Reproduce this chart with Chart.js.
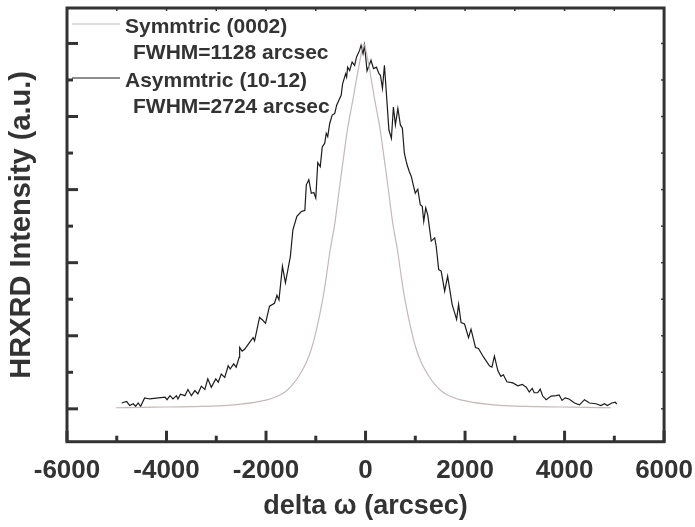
<!DOCTYPE html>
<html lang="en">
<head>
  <meta charset="UTF-8">
  <title>HRXRD rocking curves</title>
  <script src="https://cdn.jsdelivr.net/npm/chart.js"></script>
  <style>
    html, body { margin: 0; padding: 0; background: #fff; }
  </style>
</head>
<body>
  <canvas id="hrxrd" width="695" height="527"></canvas>

  <script>
    // symmetric (0002) scan, [delta omega, intensity]
    const symmetric = [
      [-5020, 0.003], [-4500, 0.004], [-4000, 0.005], [-3500, 0.006], [-3000, 0.008],
      [-2500, 0.013], [-2000, 0.024], [-1750, 0.036], [-1600, 0.048], [-1480, 0.064],
      [-1340, 0.090], [-1200, 0.124], [-1090, 0.163], [-980, 0.220], [-860, 0.300],
      [-790, 0.360], [-710, 0.436], [-620, 0.505], [-530, 0.599], [-450, 0.680],
      [-365, 0.763], [-245, 0.853], [-130, 0.940], [-35, 0.998], [60, 0.945],
      [175, 0.853], [295, 0.763], [380, 0.680], [460, 0.599], [550, 0.505],
      [640, 0.436], [720, 0.360], [790, 0.300], [910, 0.220], [1020, 0.163],
      [1130, 0.124], [1270, 0.090], [1410, 0.064], [1530, 0.048], [1680, 0.036],
      [1930, 0.024], [2430, 0.013], [2930, 0.008], [3430, 0.006], [3930, 0.005],
      [4430, 0.004], [4940, 0.003]
    ];

    // asymmetric (10-12) scan
    const asymmetric = [
      [-4900, 0.016], [-4800, 0.020], [-4740, 0.009], [-4670, 0.014], [-4620, 0.007],
      [-4570, 0.016], [-4520, 0.007], [-4440, 0.030], [-4340, 0.027], [-4030, 0.032],
      [-3990, 0.025], [-3930, 0.036], [-3870, 0.027], [-3800, 0.036], [-3770, 0.027],
      [-3720, 0.040], [-3630, 0.036], [-3570, 0.053], [-3500, 0.036], [-3430, 0.050],
      [-3370, 0.041], [-3300, 0.062], [-3230, 0.053], [-3170, 0.082], [-3100, 0.059],
      [-3010, 0.082], [-2960, 0.073], [-2900, 0.095], [-2830, 0.086], [-2760, 0.118],
      [-2720, 0.109], [-2650, 0.123], [-2600, 0.114], [-2540, 0.141], [-2530, 0.168],
      [-2480, 0.158], [-2430, 0.163], [-2330, 0.182], [-2260, 0.195], [-2230, 0.186],
      [-2130, 0.250], [-2070, 0.243], [-2010, 0.234], [-1930, 0.281], [-1830, 0.289],
      [-1780, 0.311], [-1740, 0.298], [-1670, 0.390], [-1610, 0.345], [-1510, 0.418],
      [-1460, 0.490], [-1380, 0.527], [-1290, 0.540], [-1220, 0.543], [-1190, 0.613],
      [-1140, 0.627], [-1090, 0.590], [-1040, 0.592], [-1000, 0.577], [-960, 0.674],
      [-910, 0.663], [-870, 0.717], [-820, 0.727], [-790, 0.754], [-760, 0.745],
      [-720, 0.781], [-670, 0.804], [-620, 0.808], [-580, 0.831], [-520, 0.849],
      [-490, 0.858], [-460, 0.890], [-400, 0.917], [-380, 0.908], [-360, 0.935],
      [-320, 0.926], [-270, 0.949], [-220, 0.940], [-180, 0.963], [-120, 0.981],
      [-90, 0.995], [-50, 0.972], [-20, 0.995], [30, 0.925], [110, 0.954],
      [160, 0.931], [220, 0.935], [270, 0.917], [300, 0.913], [340, 0.877],
      [380, 0.940], [470, 0.763], [520, 0.740], [560, 0.826], [600, 0.777],
      [650, 0.822], [700, 0.777], [740, 0.768], [780, 0.700], [830, 0.670],
      [880, 0.649], [920, 0.636], [950, 0.618], [1000, 0.590], [1050, 0.601],
      [1100, 0.559], [1140, 0.554], [1170, 0.513], [1210, 0.550], [1250, 0.531],
      [1320, 0.459], [1390, 0.468], [1420, 0.445], [1470, 0.381], [1520, 0.377],
      [1590, 0.322], [1650, 0.363], [1740, 0.286], [1830, 0.245], [1870, 0.286],
      [1920, 0.236], [1990, 0.232], [2070, 0.195], [2120, 0.218], [2210, 0.168],
      [2270, 0.165], [2370, 0.142], [2490, 0.118], [2540, 0.114], [2590, 0.144],
      [2660, 0.104], [2720, 0.089], [2770, 0.093], [2840, 0.074], [2960, 0.071],
      [3060, 0.063], [3150, 0.067], [3230, 0.059], [3290, 0.046], [3350, 0.056],
      [3390, 0.044], [3460, 0.044], [3510, 0.054], [3560, 0.035], [3630, 0.025],
      [3730, 0.035], [3830, 0.036], [3890, 0.038], [3950, 0.023], [4010, 0.030],
      [4090, 0.027], [4200, 0.016], [4300, 0.011], [4400, 0.025], [4500, 0.016],
      [4630, 0.014], [4730, 0.009], [4800, 0.014], [4860, 0.009], [4950, 0.016],
      [5020, 0.018], [5050, 0.013]
    ];

    const xMajor = [-6000, -4000, -2000, 0, 2000, 4000, 6000];
    const xMinor = [-5000, -3000, -1000, 1000, 3000, 5000];
    const yMajor = [0, 0.2, 0.4, 0.6, 0.8, 1.0];
    const yMinor = [0.1, 0.3, 0.5, 0.7, 0.9];

    const seriesNames = ['Symmtric (0002)', 'Asymmtric (10-12)'];
    const seriesNotes = ['FWHM=1128 arcsec', 'FWHM=2724 arcsec'];

    const FONT = 'Arial, "Liberation Sans", sans-serif';
    const INK = '#333';
    const toPts = arr => arr.map(p => ({ x: p[0], y: p[1] }));

    // frame + inward ticks, like the original Origin plot
    const framePlugin = {
      id: 'frame',
      afterDatasetsDraw(chart) {
        const { ctx, chartArea: a, scales } = chart;
        const sx = scales.x, sy = scales.y;
        ctx.save();
        ctx.strokeStyle = INK;
        const line = (x1, y1, x2, y2, w) => {
          ctx.lineWidth = w;
          ctx.beginPath();
          ctx.moveTo(x1, y1);
          ctx.lineTo(x2, y2);
          ctx.stroke();
        };
        xMajor.forEach(v => {
          const px = sx.getPixelForValue(v);
          line(px, a.bottom, px, a.bottom - 11, 3);
          line(px, a.top, px, a.top + 3, 1.5);
        });
        xMinor.forEach(v => {
          const px = sx.getPixelForValue(v);
          line(px, a.bottom, px, a.bottom - 6, 3);
          line(px, a.top, px, a.top + 3, 1.5);
        });
        yMajor.forEach(v => {
          const py = sy.getPixelForValue(v);
          line(a.left, py, a.left + 11, py, 3);
          line(a.right, py, a.right - 3, py, 1.5);
        });
        yMinor.forEach(v => {
          const py = sy.getPixelForValue(v);
          line(a.left, py, a.left + 6, py, 3);
          line(a.right, py, a.right - 3, py, 1.5);
        });
        ctx.lineWidth = 3;
        ctx.strokeRect(a.left, a.top, a.right - a.left, a.bottom - a.top);
        ctx.restore();
      }
    };

    // legend in the top-left corner
    const legendPlugin = {
      id: 'cornerLegend',
      afterDraw(chart) {
        const { ctx } = chart;
        const ds = chart.data.datasets;
        ctx.save();
        ctx.font = 'bold 21px ' + FONT;
        ctx.fillStyle = INK;
        ctx.textBaseline = 'alphabetic';
        [0, 1].forEach(i => {
          const top = 24 + i * 54;
          ctx.strokeStyle = ds[i].borderColor;
          ctx.lineWidth = 1.2;
          ctx.beginPath();
          ctx.moveTo(72, top);
          ctx.lineTo(120, top);
          ctx.stroke();
          ctx.fillText(seriesNames[i], 125, top + 9);
          ctx.fillText(seriesNotes[i], 133, top + 35);
        });
        ctx.restore();
      }
    };

    new Chart(document.getElementById('hrxrd'), {
      type: 'scatter',
      data: {
        datasets: [
          {
            label: seriesNames[0],
            data: toPts(symmetric),
            showLine: true,
            borderColor: '#c4b9b9',
            borderWidth: 1.2,
            pointRadius: 0,
            tension: 0.3
          },
          {
            label: seriesNames[1],
            data: toPts(asymmetric),
            showLine: true,
            borderColor: '#1c1c1c',
            borderWidth: 1.2,
            pointRadius: 0,
            tension: 0
          }
        ]
      },
      options: {
        responsive: false,
        animation: false,
        events: [],
        layout: { padding: { left: 6, right: 30, top: 8, bottom: 0 } },
        plugins: {
          legend: { display: false },
          tooltip: { enabled: false }
        },
        scales: {
          x: {
            type: 'linear',
            min: -6000,
            max: 6000,
            grid: { display: false, drawTicks: false },
            border: { display: false },
            ticks: {
              stepSize: 2000,
              maxRotation: 0,
              autoSkip: false,
              padding: 2,
              color: INK,
              font: { family: FONT, size: 26, weight: 'bold', lineHeight: 2.08 },
              callback: v => String(v)
            },
            title: {
              display: true,
              text: 'delta ω (arcsec)',
              color: INK,
              padding: { top: -9.6, bottom: 4.4 },
              font: { family: FONT, size: 27, weight: 'bold', lineHeight: 1.2 }
            }
          },
          y: {
            min: -0.09,
            max: 1.097,
            grid: { display: false, drawTicks: false },
            border: { display: false },
            ticks: { display: false },
            title: {
              display: true,
              text: 'HRXRD Intensity (a.u.)',
              color: INK,
              padding: { top: -1.4, bottom: 27.6 },
              font: { family: FONT, size: 29, weight: 'bold', lineHeight: 1.2 }
            }
          }
        }
      },
      plugins: [framePlugin, legendPlugin]
    });
  </script>
</body>
</html>
